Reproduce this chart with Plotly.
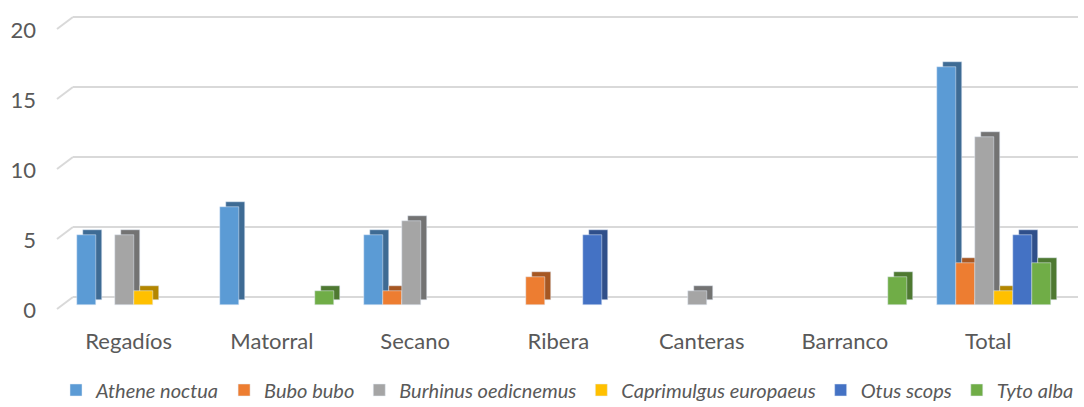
import plotly.graph_objects as go

categories = ["Regadíos", "Matorral", "Secano", "Ribera", "Canteras", "Barranco", "Total"]
athene_noctua = [5, 7, 5, 0, 0, 0, 17]
bubo_bubo = [0, 0, 1, 2, 0, 0, 3]
burhinus_oedicnemus = [5, 0, 6, 0, 1, 0, 12]
caprimulgus_europaeus = [1, 0, 0, 0, 0, 0, 1]
otus_scops = [0, 0, 0, 5, 0, 0, 5]
tyto_alba = [0, 1, 0, 0, 0, 2, 3]
series_names = ["Athene noctua", "Bubo bubo", "Burhinus oedicnemus",
                "Caprimulgus europaeus", "Otus scops", "Tyto alba"]
y_ticks = [0, 5, 10, 15, 20]

series = [athene_noctua, bubo_bubo, burhinus_oedicnemus,
          caprimulgus_europaeus, otus_scops, tyto_alba]
colors = ["#5b9bd5", "#ed7d31", "#a5a5a5", "#ffc000", "#4472c4", "#70ad47"]
side_colors = ["#3e6b94", "#a65722", "#737373", "#b38600", "#2f4f8a", "#4e7931"]

W, H = 1084, 407
L, R, T, B = 57, 6, 10, 93
plot_w = W - L - R
plot_h = H - T - B
x_range = [-0.5, 6.627]
y_range = [-0.643, 21.071]
px_cat = plot_w / (x_range[1] - x_range[0])
px_unit = plot_h / (y_range[1] - y_range[0])

bar_w = 19 / px_cat
group_shift = 5.5 / px_cat
depth_dx = 6 / px_cat
depth_dy = 4.7 / px_unit
grid_back = 8 / px_unit
grid_front = -4 / px_unit
label_shift = -5 / px_unit
back_x = 16 / plot_w

fig = go.Figure()
n = len(series)
for i, (vals, side) in enumerate(zip(series, side_colors)):
    off = group_shift - n / 2 * bar_w + i * bar_w
    fig.add_trace(go.Bar(x=categories, y=[v if v else None for v in vals],
                         base=depth_dy, offset=off + depth_dx,
                         width=bar_w, marker_color=side, showlegend=False,
                         hoverinfo="skip"))
for i, (vals, name, col) in enumerate(zip(series, series_names, colors)):
    off = group_shift - n / 2 * bar_w + i * bar_w
    fig.add_trace(go.Bar(x=categories, y=[v if v else None for v in vals],
                         offset=off, width=bar_w, marker_color=col, name=name))

shapes = []
for t in y_ticks:
    shapes.append(dict(type="line", xref="paper", yref="y", x0=back_x, x1=1,
                       y0=t + grid_back, y1=t + grid_back,
                       line=dict(color="#d9d9d9", width=2), layer="below"))
    shapes.append(dict(type="line", xref="paper", yref="y", x0=0, x1=back_x,
                       y0=t + grid_front, y1=t + grid_back,
                       line=dict(color="#d9d9d9", width=2), layer="below"))

font_family = "Lato, Liberation Sans, sans-serif"
fig.update_layout(
    width=W, height=H,
    margin=dict(l=L, r=R, t=T, b=B, pad=0, autoexpand=False),
    barmode="overlay",
    plot_bgcolor="white", paper_bgcolor="white",
    shapes=shapes,
    font=dict(family=font_family, color="#595959", size=22),
    xaxis=dict(type="category", range=x_range, showgrid=False, zeroline=False,
               showline=False, ticks="", ticklabelstandoff=12,
               tickfont=dict(size=22, color="#595959")),
    yaxis=dict(range=y_range, showgrid=False, zeroline=False, showline=False,
               tickvals=[t + label_shift for t in y_ticks],
               ticktext=[str(t) for t in y_ticks], ticks="",
               ticklabelstandoff=20,
               tickfont=dict(size=22, color="#595959")),
    legend=dict(orientation="h", x=0.5, xanchor="center", y=-0.25, yanchor="middle",
                font=dict(size=20, color="#595959", style="italic"),
                itemwidth=30, traceorder="normal"),
    bargap=0,
)

fig.write_html("out.html",
               config={"displayModeBar": False},
               post_script="document.body.style.margin='0';"
                           "document.body.style.overflow='hidden';")
